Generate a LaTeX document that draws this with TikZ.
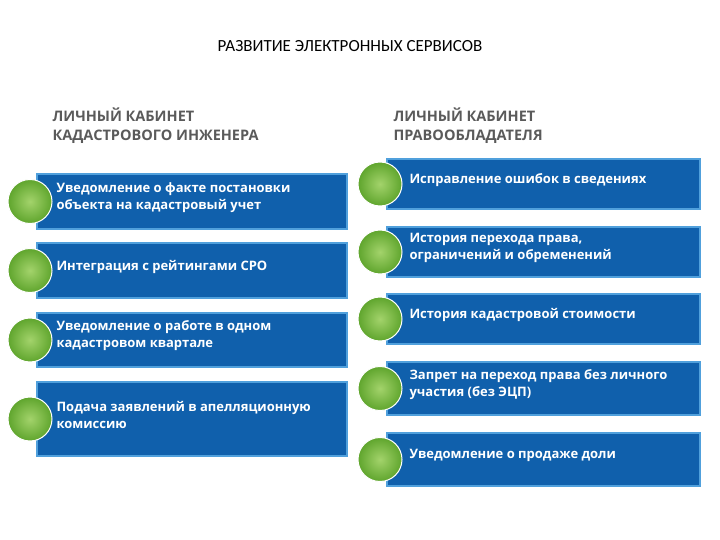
\documentclass[tikz,border=0pt]{standalone}
\usepackage{fontspec}
\setmainfont{Open Sans}
\newfontfamily\titlefont{Carlito}
\definecolor{boxblue}{RGB}{16,96,172}
\definecolor{boxedge}{RGB}{80,160,220}
\definecolor{ballgreen}{RGB}{140,200,70}
\definecolor{balldark}{RGB}{95,165,45}
\definecolor{headgray}{RGB}{90,90,90}
\tikzset{x=1pt,y=-1pt,
 bx/.style={fill=boxblue,draw=boxedge,line width=1.2pt},
 ball/.style={circle,minimum size=44pt,inner sep=0pt,draw=white,line width=1pt,
   inner color=ballgreen!80!white,outer color=balldark},
 txt/.style={anchor=west,text=white,font=\bfseries\fontsize{13}{17}\selectfont,align=left},
 head/.style={anchor=north west,text=headgray,font=\bfseries\fontsize{14.5}{19}\selectfont,align=left}}
\begin{document}
\begin{tikzpicture}
\useasboundingbox (0,0) rectangle (720,540);
\node[font=\titlefont\fontsize{17}{20}\selectfont] (title) at (350,46) {РАЗВИТИЕ ЭЛЕКТРОННЫХ СЕРВИСОВ};
\node[head] (h1) at (49,104) {ЛИЧНЫЙ КАБИНЕТ\\КАДАСТРОВОГО ИНЖЕНЕРА};
\node[head] (h2) at (390,104) {ЛИЧНЫЙ КАБИНЕТ\\ПРАВООБЛАДАТЕЛЯ};
% left
\foreach \i/\a/\b/\t in {1/174/229/{Уведомление о факте постановки\\объекта на кадастровый учет},
 2/243/298/{Интеграция с рейтингами СРО},
 3/313/367/{Уведомление о работе в одном\\кадастровом квартале},
 4/382/456/{Подача заявлений в апелляционную\\комиссию}}{
 \draw[bx] (37,\a) rectangle (347,\b);
 \node[ball] (l\i) at (30,{(\a+\b)/2}) {};
 \node[txt] (lt\i) at (53,{(\a+\b)/2-4}) {\t};
}
% right
\foreach \i/\a/\b/\t in {1/159/209/{Исправление ошибок в сведениях},
 2/227/277/{История перехода права,\\ограничений и обременений},
 3/294/344/{История кадастровой стоимости},
 4/362/415/{Запрет на переход права без личного\\участия (без ЭЦП)},
 5/433/486/{Уведомление о продаже доли}}{
 \draw[bx] (387,\a) rectangle (700,\b);
 \node[ball] (r\i) at (380,{(\a+\b)/2}) {};
 \node[txt] (rt\i) at (406,{(\a+\b)/2-4}) {\t};
}
\end{tikzpicture}
\end{document}
